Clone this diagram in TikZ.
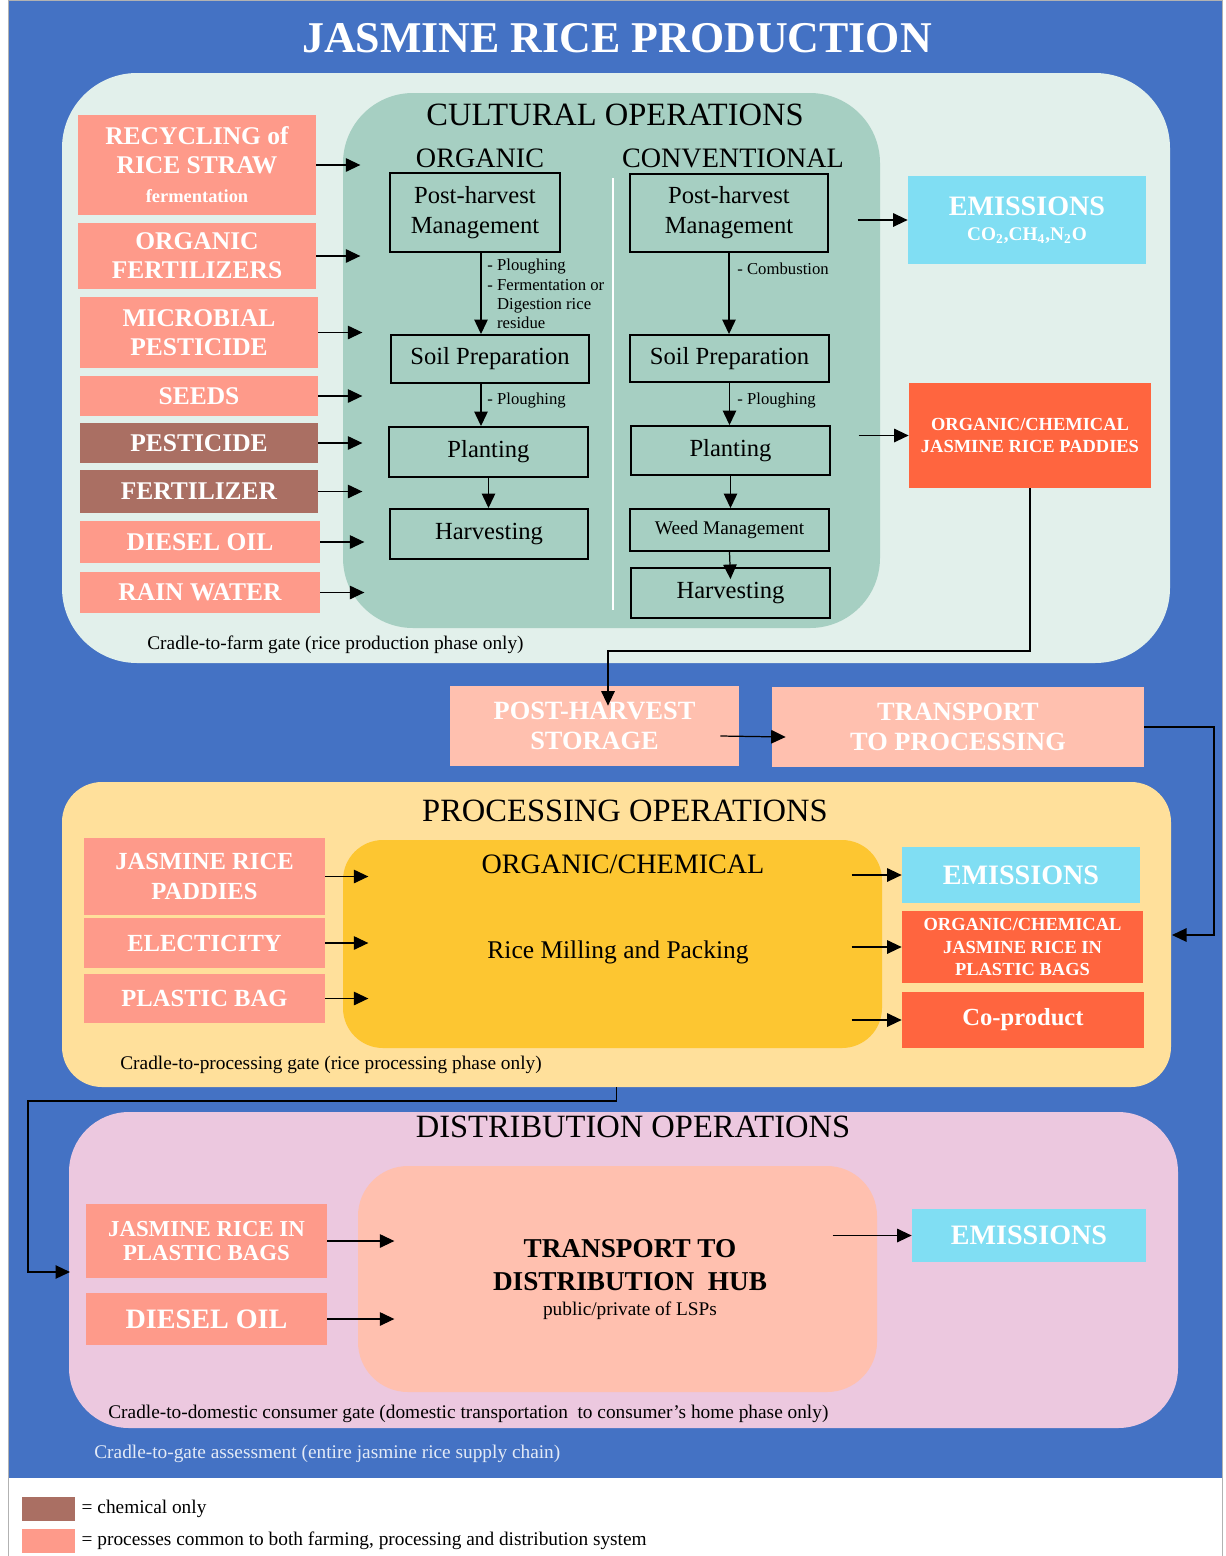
\documentclass[tikz,border=0pt]{standalone}
\usepackage{fontspec}
\setmainfont{Liberation Serif}
\usepackage{tikz}
\usetikzlibrary{arrows.meta, positioning, calc}

\definecolor{bgblue}{HTML}{4472C4}
\definecolor{farmbg}{HTML}{E2F0EB}
\definecolor{cultbg}{HTML}{A6CFC2}
\definecolor{salmon}{HTML}{FE9A8A}
\definecolor{chembrown}{HTML}{AA6F63}
\definecolor{emiscyan}{HTML}{80DEF3}
\definecolor{outred}{HTML}{FF653F}
\definecolor{peach}{HTML}{FFC0AF}
\definecolor{procbg}{HTML}{FFE09B}
\definecolor{millyel}{HTML}{FDC631}
\definecolor{distbg}{HTML}{ECC8DF}
\newcommand{\fsz}[2]{\fontsize{#1}{#2}\selectfont}

\begin{document}
\begin{tikzpicture}[x=0.2mm, y=-0.2mm,
  sz/.style 2 args={minimum width=#1*0.2mm, minimum height=#2*0.2mm},
  panel/.style={inner sep=0pt, outer sep=0pt, rounded corners=#1},
  inbox/.style={fill=salmon, text=white, align=center, inner sep=0pt},
  stepbox/.style={draw, line width=1.1pt, fill=cultbg, align=center, inner sep=0pt, font=\fsz{14}{17}},
  emisbox/.style={fill=emiscyan, text=white, align=center, inner sep=0pt, font=\fsz{16}{14.5}\bfseries},
  outbox/.style={fill=outred, text=white, align=center, inner sep=0pt, font=\fsz{10.5}{13}\bfseries},
  title/.style={font=\fsz{18.5}{22}, inner sep=0pt},
  lab/.style={font=\fsz{9.5}{11}, inner sep=0pt, align=left},
  gate/.style={font=\fsz{11}{12}, inner sep=0pt, anchor=west},
  arr/.style={-{Triangle[length=2.9mm, width=2.7mm]}, line width=0.7pt}]
  \useasboundingbox (0,0) rectangle (1225,1556);
  % Background
  \fill[bgblue] (8,0) rectangle (1222,1478);
  \draw[gray!60, line width=0.5pt] (8,0) rectangle (1222,1556);
  \node[font=\fsz{25}{28}\bfseries, text=white, inner sep=0pt] (main) at (617,38) {JASMINE RICE PRODUCTION};

  % Farm phase
  \node[panel=15mm, fill=farmbg, sz={1108}{590}] (farm) at (616,368) {};
  \node[panel=14mm, fill=cultbg, sz={537}{535}] (cult) at (611.5,360.5) {};
  \node[title] (culttitle) at (615,115) {CULTURAL~OPERATIONS};
  \node[font=\fsz{16}{18}, inner sep=0pt] (orgtitle) at (480,158) {ORGANIC};
  \node[font=\fsz{16}{18}, inner sep=0pt] (contitle) at (733,158) {CONVENTIONAL};
  \draw[white, line width=0.6pt] (613,178) -- (613,610);
  \foreach \n/\cx/\cy/\w/\h/\c/\t in {
    rec/197/165/238/100/salmon/{RECYCLING of\\RICE STRAW\\{\fsz{10.5}{12}fermentation}},
    ofert/197/256/238/66/salmon/{ORGANIC\\FERTILIZERS},
    micro/199/332.5/238/71/salmon/{MICROBIAL\\PESTICIDE},
    seeds/199/396/238/40/salmon/{SEEDS},
    pest/199/443/238/40/chembrown/{PESTICIDE},
    fert/199/491.5/238/43/chembrown/{FERTILIZER},
    dies/200/542/240/42/salmon/{DIESEL OIL},
    rain/200/592.5/240/41/salmon/{RAIN WATER}}{
    \node[inbox, fill=\c, sz={\w}{\h}, font=\fsz{14.5}{16.5}\bfseries] (\n) at (\cx,\cy) {\t};
    \draw[arr] (\n.east) -- ++(44,0);
  }
  % Organic column
  \coordinate (oax) at (481,0);
  \node[stepbox, sz={170}{79}] (ophm) at (475,212.5) {Post-harvest\\Management};
  \node[stepbox, sz={198}{48}] (osoil) at (490,359) {Soil Preparation};
  \node[stepbox, sz={199}{50}] (oplant) at (488.5,452) {Planting};
  \node[stepbox, sz={198}{50}] (oharv) at (489,534) {Harvesting};
  \draw[arr] (ophm.south -| oax) -- (osoil.north -| oax);
  \draw[arr] (osoil.south -| oax) -- (oplant.north -| oax);
  \draw[arr] (oplant.south) -- (oplant.south |- oharv.north);
  \node[lab, anchor=north west] (olab1) at (487,259) {- Ploughing\\- Fermentation or\\\phantom{-}\ Digestion rice\\\phantom{-}\ residue};
  \node[lab, anchor=west] (olab2) at (487,401) {- Ploughing};
  % Conventional column
  \node[stepbox, sz={198}{78}] (cphm) at (729,213) {Post-harvest\\Management};
  \node[stepbox, sz={199}{47}] (csoil) at (729.5,358.5) {Soil Preparation};
  \node[stepbox, sz={199}{49}] (cplant) at (730.5,450.5) {Planting};
  \node[stepbox, sz={199}{42}, font=\fsz{11}{13}] (cweed) at (729.5,530) {Weed Management};
  \node[stepbox, sz={199}{50}] (charv) at (730.5,593) {Harvesting};
  \draw[arr] (cphm.south) -- (cphm.south |- csoil.north);
  \draw[arr] (csoil.south) -- (csoil.south |- cplant.north);
  \draw[arr] (cplant.south) -- (cplant.south |- cweed.north);
  \draw[arr] (cweed.south) -- ([yshift=-2.4mm]charv.north);
  \node[lab, anchor=west] (clab1) at (737,269) {- Combustion};
  \node[lab, anchor=west] (clab2) at (737,401) {- Ploughing};
  % Farm outputs
  \node[emisbox, sz={238}{88}] (emis1) at (1027,220) {EMISSIONS\\{\fsz{11}{13}CO\textsubscript{2},CH\textsubscript{4},N\textsubscript{2}O}};
  \node[outbox, sz={242}{105}] (paddy) at (1030,435.5) {ORGANIC/CHEMICAL\\JASMINE RICE PADDIES};
  \draw[arr] ([xshift=-1cm]emis1.west) -- (emis1.west);
  \draw[arr] ([xshift=-1cm]paddy.west) -- (paddy.west);
  \node[gate] (farmgate) at (147,645) {Cradle-to-farm gate (rice production phase only)};

  % Storage and transport
  \node[inbox, fill=peach, sz={289}{80}, font=\fsz{15}{17}\bfseries] (stor) at (594.5,726) {POST-HARVEST\\STORAGE};
  \node[inbox, fill=peach, sz={372}{80}, font=\fsz{15}{17}\bfseries] (trans) at (958,727) {TRANSPORT\\TO PROCESSING};
  \coordinate (mbend) at (0,651);
  \draw[arr] (paddy.south) -- (paddy.south |- mbend) -| ([xshift=2.7mm,yshift=-4mm]stor.north);
  \draw[arr] ([xshift=-3.8mm,yshift=-2mm]stor.east) -- ([xshift=2.8mm,yshift=-2mm]trans.west);

  % Processing phase
  \node[panel=8mm, fill=procbg, sz={1109}{305}] (proc) at (616.5,934.5) {};
  \node[title] (proctitle) at (625,811) {PROCESSING OPERATIONS};
  \node[panel=8mm, fill=millyel, sz={539}{208}] (mill) at (612.5,944) {};
  \node[font=\fsz{16}{18}, inner sep=0pt] (milltop) at (623,864) {ORGANIC/CHEMICAL};
  \node[font=\fsz{14.5}{17}, inner sep=0pt] (milltxt) at (618,952) {Rice Milling and Packing};
  \foreach \n/\cy/\h/\t in {
    pin1/876.5/77/{JASMINE RICE\\PADDIES},
    pin2/943/50/{ELECTICITY},
    pin3/998.5/49/{PLASTIC BAG}}{
    \node[inbox, sz={241}{\h}, font=\fsz{14}{17}\bfseries] (\n) at (204.5,\cy) {\t};
    \draw[arr] (\n.east) -- ++(43,0);
  }
  \node[emisbox, sz={238}{56}] (emis2) at (1021,875) {EMISSIONS};
  \node[outbox, sz={241}{72}] (bags) at (1022.5,947) {ORGANIC/CHEMICAL\\JASMINE RICE IN\\PLASTIC BAGS};
  \node[outbox, sz={242}{56}, font=\fsz{14}{16}\bfseries] (coprod) at (1023,1020) {Co-product};
  \foreach \n in {emis2, bags, coprod}
    \draw[arr] ([xshift=-1cm]\n.west) -- (\n.west);
  \node[gate] (procgate) at (120,1065) {Cradle-to-processing gate (rice processing phase only)};
  \coordinate (rbend) at (1214,0);
  \coordinate (procin) at (1172,935);
  \draw[arr] (trans.east) -- (trans.east -| rbend) |- (procin);

  % Distribution phase
  \node[panel=12mm, fill=distbg, sz={1109}{316}] (dist) at (623.5,1270) {};
  \node[title] (disttitle) at (633,1127) {DISTRIBUTION OPERATIONS};
  \node[panel=10mm, fill=peach, sz={519}{226}] (hub) at (617.5,1279) {};
  \node[font=\fsz{15.5}{18.5}\bfseries, align=center, inner sep=0pt] (hubtxt) at (630,1280) {TRANSPORT TO\\DISTRIBUTION~~HUB\\[-4pt]{\fsz{11}{12}\mdseries public/private of LSPs}};
  \node[inbox, sz={241}{74}, font=\fsz{13}{14}\bfseries] (dbags) at (206.5,1241) {JASMINE RICE IN\\PLASTIC BAGS};
  \node[inbox, sz={241}{52}, font=\fsz{16}{18}\bfseries] (ddies) at (206.5,1319) {DIESEL OIL};
  \draw[arr] (dbags.east) -- ++(67,0);
  \draw[arr] (ddies.east) -- ++(67,0);
  \node[emisbox, sz={234}{53}] (emis3) at (1029,1235.5) {EMISSIONS};
  \draw[arr] ([xshift=-15.8mm]emis3.west) -- (emis3.west);
  \node[gate] (distgate) at (108,1414) {Cradle-to-domestic consumer gate (domestic transportation~ to consumer’s home phase only)};
  \coordinate (lbend) at (28,1101);
  \coordinate (distin) at (70,1272);
  \draw[arr] (proc.south) |- (lbend) |- (distin);
  \node[gate, text=white!85!bgblue] (allgate) at (94,1454) {Cradle-to-gate assessment (entire jasmine rice supply chain)};

  % Legend
  \node[fill=chembrown, sz={53}{24}, inner sep=0pt] (legchem) at (48.5,1509) {};
  \node[fill=salmon, sz={53}{24}, inner sep=0pt] (legcom) at (48.5,1541) {};
  \node[gate, right=1.2mm of legchem] (legchemtxt) {= chemical only};
  \node[gate, right=1.2mm of legcom] (legcomtxt) {= processes common to both farming, processing and distribution system};
\end{tikzpicture}
\end{document}
